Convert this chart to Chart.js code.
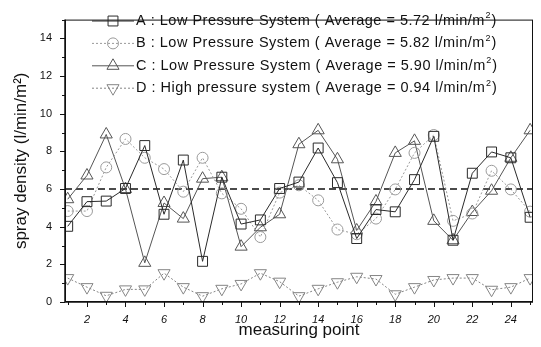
<!DOCTYPE html>
<html><head><meta charset="utf-8">
<script src="https://cdn.jsdelivr.net/npm/chart.js@4"></script>
<style>html,body{margin:0;padding:0;background:#fff}#wrap{width:541px;height:347px}</style>
</head><body><div id="wrap"><canvas id="c" width="541" height="347"></canvas></div>
<script>
// ---- data ----
const measuringPoints = [1,2,3,4,5,6,7,8,9,10,11,12,13,14,15,16,17,18,19,20,21,22,23,24,25];
const seriesA = [4.02,5.33,5.36,6.03,8.31,4.66,7.54,2.16,6.63,4.14,4.36,6.03,6.37,8.18,6.34,3.37,4.91,4.79,6.50,8.80,3.28,6.84,7.97,7.66,4.50];
const seriesB = [4.83,4.83,7.15,8.66,7.66,7.06,5.86,7.66,5.77,4.95,3.45,5.81,6.20,5.40,3.85,3.60,4.43,5.98,7.92,8.87,4.31,4.70,6.97,5.98,4.80];
const seriesC = [5.46,6.72,8.90,6.00,2.08,5.26,4.43,6.55,6.63,2.94,3.97,4.66,8.38,9.12,7.58,3.80,5.34,7.92,8.56,4.31,3.28,4.78,5.91,7.66,9.12];
const seriesD = [1.27,0.79,0.33,0.67,0.67,1.53,0.79,0.31,0.70,0.96,1.53,1.08,0.31,0.70,1.05,1.34,1.22,0.41,0.79,1.17,1.27,1.27,0.65,0.79,1.27];
const seriesNames = ['A : Low Pressure System', 'B : Low Pressure System', 'C : Low Pressure System', 'D : High pressure system'];
const seriesAverages = ['5.72', '5.82', '5.90', '0.94'];
const xTickLabels = [2,4,6,8,10,12,14,16,18,20,22,24];
const yTickLabels = [0,2,4,6,8,10,12,14];
const referenceLevel = 6;

const FONT = "'Liberation Sans', Arial, sans-serif";

function toXY(vals){ return measuringPoints.map((p,i)=>({x:p,y:vals[i]})); }

const styles = [
  {color:'#2a2a2a', dash:[], style:'rect', radius:7, rotation:0},
  {color:'#9a9a9a', dash:[2,2], style:'circle', radius:5.5, rotation:0},
  {color:'#555555', dash:[], style:'triangle', radius:7, rotation:0},
  {color:'#858585', dash:[2,2], style:'triangle', radius:7, rotation:180}
];
const allSeries = [seriesA, seriesB, seriesC, seriesD];

const datasets = allSeries.map((s,i)=>({
  label: seriesNames[i],
  data: toXY(s),
  borderColor: styles[i].color,
  borderWidth: 1,
  borderDash: styles[i].dash,
  pointStyle: styles[i].style,
  pointRadius: styles[i].radius,
  pointRotation: styles[i].rotation,
  pointBorderColor: styles[i].color,
  pointBackgroundColor: 'rgba(255,255,255,0)',
  pointBorderWidth: 1,
  tension: 0,
  fill: false
}));

const framePlugin = {
  id: 'frame',
  beforeDatasetsDraw(chart){
    const {ctx, chartArea:a, scales:{y}} = chart;
    const py = y.getPixelForValue(referenceLevel);
    ctx.save();
    ctx.strokeStyle = '#111';
    ctx.lineWidth = 1.6;
    ctx.setLineDash([7,4]);
    ctx.beginPath(); ctx.moveTo(a.left, py); ctx.lineTo(a.right, py); ctx.stroke();
    ctx.restore();
  },
  afterDraw(chart){
    const {ctx, chartArea:a, scales:{x,y}} = chart;
    ctx.save();
    ctx.strokeStyle = '#111';
    ctx.lineWidth = 1;
    ctx.strokeRect(a.left+0.5, a.top+0.5, a.right-a.left-1, a.bottom-a.top-1);
    ctx.lineWidth = 1.5;
    ctx.beginPath(); ctx.moveTo(a.left, a.top); ctx.lineTo(a.left, a.bottom); ctx.lineTo(a.right, a.bottom); ctx.stroke();
    ctx.lineWidth = 1;
    ctx.beginPath();
    for (let v=0; v<=15; v++){
      const py = Math.round(y.getPixelForValue(v))+0.5;
      const len = v%2===0 ? 5 : 3;
      ctx.moveTo(a.left, py); ctx.lineTo(a.left-len, py);
    }
    for (const p of measuringPoints){
      const px = Math.round(x.getPixelForValue(p))+0.5;
      const len = p%2===0 ? 5 : 3;
      ctx.moveTo(px, a.bottom); ctx.lineTo(px, a.bottom+len);
    }
    ctx.stroke();

    // legend
    const rowY0 = 21, rowGap = 22.4;
    const lineX0 = 92, lineX1 = 134, markX = 113, textX = 136;
    ctx.textBaseline = 'middle';
    for (let i=0;i<4;i++){
      const ry = rowY0 + i*rowGap;
      const st = styles[i];
      ctx.strokeStyle = st.color;
      ctx.lineWidth = 1;
      ctx.setLineDash(st.dash.length ? st.dash : []);
      ctx.beginPath(); ctx.moveTo(lineX0, ry); ctx.lineTo(lineX1, ry); ctx.stroke();
      ctx.setLineDash([]);
      ctx.fillStyle = 'rgba(255,255,255,0)';
      ctx.strokeStyle = st.color;
      Chart.helpers.drawPoint(ctx, {pointStyle: st.style, radius: st.radius, rotation: st.rotation, borderWidth: 1}, markX, ry);
      ctx.fillStyle = '#111';
      ctx.letterSpacing = '0.5px';
      ctx.font = '14.5px ' + FONT;
      const main = seriesNames[i] + ' ( Average = ' + seriesAverages[i] + ' l/min/m';
      ctx.textAlign = 'left';
      ctx.fillText(main, textX, ry);
      let w = ctx.measureText(main).width;
      ctx.font = '9px ' + FONT;
      ctx.fillText('2', textX + w + 0.5, ry - 5);
      const w2 = ctx.measureText('2').width;
      ctx.font = '14.5px ' + FONT;
      ctx.fillText(')', textX + w + w2 + 1, ry);
      ctx.letterSpacing = '0px';
    }
    ctx.restore();
  }
};

new Chart(document.getElementById('c'), {
  type: 'line',
  data: { datasets },
  options: {
    responsive: false,
    animation: false,
    layout: { padding: { top: 10, right: 6, left: 0, bottom: 0 } },
    plugins: { legend: { display: false }, tooltip: { enabled: false } },
    scales: {
      x: {
        type: 'linear', min: 0.86, max: 25.15,
        afterBuildTicks(s){ s.ticks = xTickLabels.map(v=>({value:v})); },
        afterFit(s){ s.height = 45; },
        grid: { display: false, drawTicks: false },
        border: { display: false },
        ticks: { padding: 11, color: '#111', font: { family: FONT, size: 11, style: 'italic' }, maxRotation: 0, autoSkip: false },
        title: { display: true, text: 'measuring point', color: '#111', font: { family: FONT, size: 17 }, padding: { top: 0, bottom: 6 } }
      },
      y: {
        type: 'linear', min: 0, max: 15,
        afterBuildTicks(s){ s.ticks = yTickLabels.map(v=>({value:v})); },
        afterFit(s){ s.width = 65; },
        grid: { display: false, drawTicks: false },
        border: { display: false },
        ticks: { padding: 13, color: '#111', font: { family: FONT, size: 11 }, autoSkip: false },
        title: { display: true, text: 'spray density (l/min/m²)', color: '#111', font: { family: FONT, size: 17 }, padding: { top: 11, bottom: 0 } }
      }
    }
  },
  plugins: [framePlugin]
});
</script>
</body></html>
